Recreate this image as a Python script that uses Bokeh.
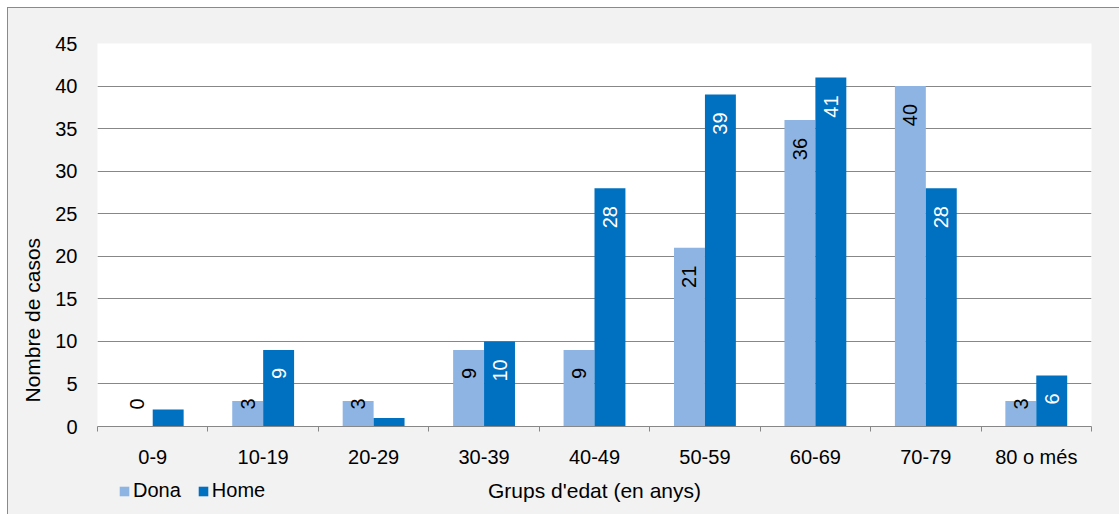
import numpy as np
from math import pi
from bokeh.plotting import figure
from bokeh.layouts import column
from bokeh.models import (ColumnDataSource, FixedTicker, Range1d, Legend, LegendItem, Title)
from bokeh.transform import dodge
from bokeh.core.properties import value
from bokeh.embed import file_html
from bokeh.resources import INLINE

# ---- data ----
categories = ["0-9", "10-19", "20-29", "30-39", "40-49", "50-59", "60-69", "70-79", "80 o més"]
dona = [0, 3, 3, 9, 9, 21, 36, 40, 3]
home = [2, 9, 1, 10, 28, 39, 41, 28, 6]
y_ticks = [0, 5, 10, 15, 20, 25, 30, 35, 40, 45]
series_names = ["Dona", "Home"]
x_title = "Grups d'edat (en anys)"
y_title = "Nombre de casos"

FONT = "Liberation Sans"
FS = "20px"
FS_T = "21px"
C_DONA = "#8DB4E2"
C_HOME = "#0070C0"
GRID = "#878787"
BG = "#F2F2F2"
BORDER = "1px solid #8a8a8a"
W = 1111

n = len(categories)
centers = np.arange(n) + 0.5
src = ColumnDataSource(dict(
    x=centers,
    dona=dona,
    home=home,
    dona_lbl=[str(v) for v in dona],
    home_lbl=[str(v) for v in home],
    dona_ly=[max(v - 2.1, 3.3) for v in dona],
    home_ly=[max(v - 2.1, 3.3) for v in home],
))

xr = Range1d(0, n)
p = figure(width=W, height=466, output_backend="svg", toolbar_location=None,
           x_range=xr, y_range=Range1d(0, 45),
           min_border_left=89, min_border_right=W - 1083, min_border_top=35, min_border_bottom=48)
p.border_fill_color = BG
p.background_fill_color = "white"
p.outline_line_color = None

bw = 0.28
p.vbar(x=dodge("x", -bw / 2, range=xr), top="dona", width=bw, source=src,
       fill_color=C_DONA, line_color=None)
p.vbar(x=dodge("x", bw / 2, range=xr), top="home", width=bw, source=src,
       fill_color=C_HOME, line_color=None)

p.text(x=dodge("x", -bw / 2, range=xr), y="dona_ly", text="dona_lbl", source=src,
       angle=pi / 2, text_align="right", text_baseline="middle",
       text_font=value(FONT), text_font_size=FS, text_color="black")
p.text(x=dodge("x", bw / 2, range=xr), y="home_ly", text="home_lbl", source=src,
       angle=pi / 2, text_align="right", text_baseline="middle",
       text_font=value(FONT), text_font_size=FS, text_color="white")

# axes
p.xgrid.grid_line_color = None
p.yaxis.ticker = FixedTicker(ticks=y_ticks)
p.ygrid.ticker = FixedTicker(ticks=y_ticks)
p.ygrid.grid_line_color = GRID
p.ygrid.grid_line_width = 1
p.yaxis.axis_line_color = None
p.yaxis.major_tick_line_color = None
p.yaxis.minor_tick_line_color = None
p.yaxis.major_tick_out = 0
p.yaxis.minor_tick_out = 0
p.yaxis.major_label_standoff = 20
p.yaxis.major_label_text_font = FONT
p.yaxis.major_label_text_font_size = FS
p.yaxis.major_label_text_color = "black"

p.xaxis.ticker = FixedTicker(ticks=list(centers), minor_ticks=list(range(n + 1)))
p.xaxis.major_label_overrides = {float(c): lab for c, lab in zip(centers, categories)}
p.xaxis.axis_line_color = GRID
p.xaxis.major_tick_line_color = None
p.xaxis.major_tick_out = 0
p.xaxis.minor_tick_line_color = GRID
p.xaxis.minor_tick_out = 5
p.xaxis.minor_tick_in = 0
p.xaxis.major_label_standoff = 14
p.xaxis.major_label_text_font = FONT
p.xaxis.major_label_text_font_size = FS
p.xaxis.major_label_text_color = "black"

ytitle = Title(text=y_title, align="left", offset=24, standoff=17,
               text_font=FONT, text_font_size=FS_T, text_font_style="normal",
               text_color="black")
p.add_layout(ytitle, "left")

# ---- bottom strip: legend + x title ----
q = figure(width=W, height=40, output_backend="svg", toolbar_location=None,
           x_range=xr, y_range=Range1d(0, 1), x_axis_type=None, y_axis_type=None,
           min_border_left=89, min_border_right=W - 1083, min_border_top=0, min_border_bottom=0)
q.border_fill_color = BG
q.background_fill_color = BG
q.outline_line_color = None
q.grid.grid_line_color = None

# zero-height dummy bars that only carry the legend swatch styles
dummy = ColumnDataSource(dict(x=[0], top=[0]))
l_dona = q.vbar(x="x", top="top", width=0.01, source=dummy, fill_color=C_DONA, line_color=None)
l_home = q.vbar(x="x", top="top", width=0.01, source=dummy, fill_color=C_HOME, line_color=None)
q.text(x=[n / 2], y=[0.6], text=[x_title], text_align="center", text_baseline="middle",
       text_font=value(FONT), text_font_size=FS_T, text_color="black")

legend = Legend(items=[LegendItem(label=series_names[0], renderers=[l_dona]),
                       LegendItem(label=series_names[1], renderers=[l_home])],
                orientation="horizontal", location=(21, 12),
                background_fill_alpha=0, border_line_color=None,
                label_text_font=FONT, label_text_font_size=FS, label_text_color="black",
                glyph_width=12, glyph_height=12, label_standoff=3, spacing=16,
                padding=0, margin=0, label_height=20)
q.add_layout(legend)

layout = column(p, q, spacing=0)
layout.styles = {"margin-left": "7px", "margin-top": "7px",
                 "border-left": BORDER, "border-top": BORDER,
                 "background-color": BG}

open("out.html", "w").write(file_html(layout, INLINE))
